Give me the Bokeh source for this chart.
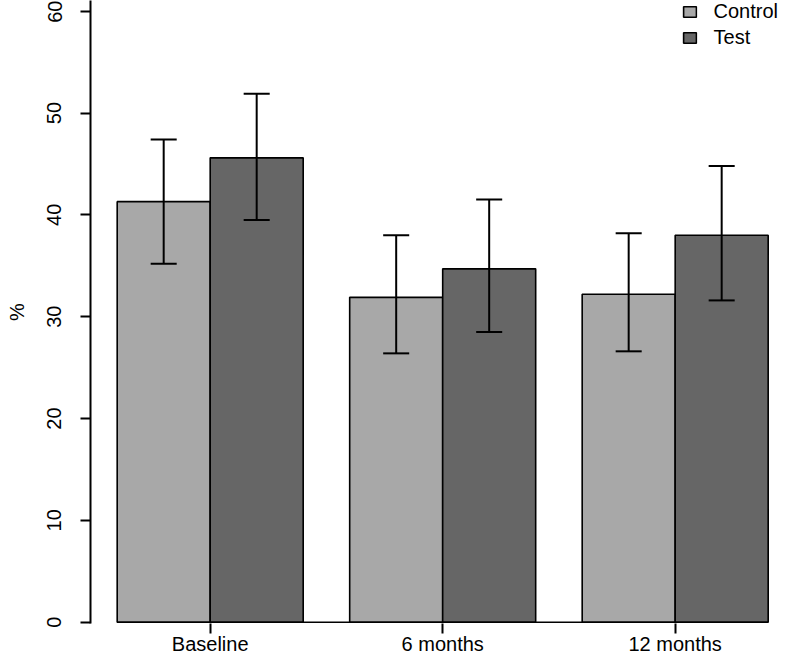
from bokeh.plotting import figure
from bokeh.models import Range1d, FixedTicker, Legend, LegendItem
from bokeh.embed import file_html
from bokeh.resources import INLINE

# ---- data ----
groups = ["Baseline", "6 months", "12 months"]
series = ["Control", "Test"]
control_mean = [41.3, 31.9, 32.2]
control_lower = [35.2, 26.4, 26.6]
control_upper = [47.4, 38.0, 38.2]
test_mean = [45.6, 34.7, 38.0]
test_lower = [39.5, 28.5, 31.6]
test_upper = [51.9, 41.5, 44.8]
y_ticks = [0, 10, 20, 30, 40, 50, 60]

# ---- layout in data units (bar width = 1) ----
bar_w = 1.0
group_gap = 0.5
group_step = 2 * bar_w + group_gap
starts = [i * group_step for i in range(len(groups))]
ctrl_x = [s + 0.5 * bar_w for s in starts]
test_x = [s + 1.5 * bar_w for s in starts]
centers = [s + bar_w for s in starts]
cap_w = 0.28

FONT = "Liberation Sans"
FS = "20px"

p = figure(width=778, height=657,
           x_range=Range1d(-0.287, 7.111), y_range=Range1d(-0.128, 61.051),
           output_backend="svg", toolbar_location=None,
           min_border_left=90, min_border_right=0, min_border_top=0, min_border_bottom=34)
p.outline_line_color = None
p.xgrid.visible = False
p.ygrid.visible = False
p.background_fill_color = "white"

r_ctrl = p.vbar(x=ctrl_x, top=control_mean, bottom=0, width=bar_w,
                fill_color="#A8A8A8", line_color="black", line_width=1.6)
r_test = p.vbar(x=test_x, top=test_mean, bottom=0, width=bar_w,
                fill_color="#666666", line_color="black", line_width=1.6)

# baseline line under the bars
p.segment(x0=[starts[0]], x1=[starts[-1] + 2 * bar_w], y0=[0], y1=[0],
          line_color="black", line_width=1.6)

# error bars
for xs, lo, hi in ((ctrl_x, control_lower, control_upper), (test_x, test_lower, test_upper)):
    p.segment(x0=xs, x1=xs, y0=lo, y1=hi, line_color="black", line_width=2)
    p.segment(x0=[x - cap_w / 2 for x in xs], x1=[x + cap_w / 2 for x in xs],
              y0=hi, y1=hi, line_color="black", line_width=2)
    p.segment(x0=[x - cap_w / 2 for x in xs], x1=[x + cap_w / 2 for x in xs],
              y0=lo, y1=lo, line_color="black", line_width=2)

# y axis
ya = p.yaxis[0]
ya.ticker = FixedTicker(ticks=y_ticks)
ya.axis_line_color = "black"
ya.axis_line_width = 2
ya.major_tick_line_color = "black"
ya.major_tick_line_width = 2
ya.major_tick_out = 10
ya.major_tick_in = 0
ya.minor_tick_line_color = None
ya.major_label_orientation = "vertical"
ya.major_label_text_font = FONT
ya.major_label_text_font_size = FS
ya.major_label_text_color = "black"
ya.major_label_standoff = 19
ya.axis_label = "%"
ya.axis_label_text_font = FONT
ya.axis_label_text_font_size = FS
ya.axis_label_text_font_style = "normal"
ya.axis_label_text_color = "black"
ya.axis_label_standoff = 17

# x axis
xa = p.xaxis[0]
xa.ticker = FixedTicker(ticks=centers)
xa.major_label_overrides = {c: g for c, g in zip(centers, groups)}
xa.axis_line_color = None
xa.major_tick_line_color = "black"
xa.major_tick_line_width = 2
xa.major_tick_out = 10
xa.major_tick_in = 0
xa.minor_tick_line_color = None
xa.major_label_text_font = FONT
xa.major_label_text_font_size = FS
xa.major_label_text_color = "black"
xa.major_label_standoff = -1

legend = Legend(items=[LegendItem(label=series[0], renderers=[r_ctrl]),
                       LegendItem(label=series[1], renderers=[r_test])],
                location="top_right")
legend.glyph_width = 16
legend.glyph_height = 13
legend.label_standoff = 16
legend.label_text_font = FONT
legend.label_text_font_size = FS
legend.label_text_color = "black"
legend.label_height = 20
legend.spacing = 3
legend.padding = 0
legend.margin = 0
legend.border_line_color = None
legend.background_fill_alpha = 0
p.add_layout(legend)

open("out.html", "w").write(file_html(p, INLINE))
